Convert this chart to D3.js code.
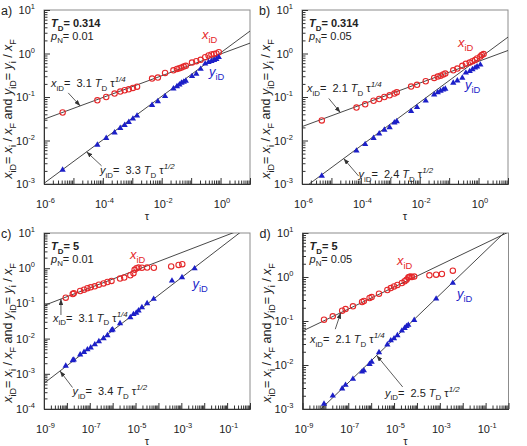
<!DOCTYPE html>
<html>
<head>
<meta charset="utf-8">
<script src="https://cdn.jsdelivr.net/npm/d3@7"></script>
<style>
  body { margin: 0; background: #fff; }
  svg { font-family: "Liberation Sans", Arial, sans-serif; }
  text { white-space: pre; }
</style>
</head>
<body>
<svg id="chart" width="527" height="446"></svg>
<script>
// ---- data ----
// panel a) TD = 0.314, pN = 0.01
const tauA = [4.3e-6, 6.5e-5, 1.3e-4, 2.5e-4, 3.9e-4, 5.5e-4, 7.6e-4, 1.05e-3, 1.45e-3,
              4.7e-3, 7.4e-3, 1.3e-2, 2.5e-2, 3.3e-2, 4.0e-2, 4.7e-2, 5.6e-2, 6.6e-2,
              0.107, 0.15, 0.21, 0.30, 0.39, 0.49, 0.60, 0.72, 0.87];
const xA = [0.044, 0.084, 0.10, 0.12, 0.133, 0.143, 0.150, 0.162, 0.173,
            0.265, 0.28, 0.358, 0.41, 0.443, 0.46, 0.475, 0.50, 0.52,
            0.62, 0.665, 0.714, 0.82, 0.90, 0.95, 0.98, 1.0, 1.07];
const yA = [0.0021, 0.0079, 0.0113, 0.0151, 0.0193, 0.0226, 0.0265, 0.0316, 0.037,
            0.065, 0.079, 0.104, 0.155, 0.176, 0.193, 0.21, 0.222, 0.234,
            0.30, 0.34, 0.44, 0.58, 0.63, 0.665, 0.70, 0.74, 0.82];

// panel b) TD = 0.314, pN = 0.05
const tauBx = [4.7e-6, 7.1e-5, 1.4e-4, 2.7e-4, 4.2e-4, 6.3e-4, 9.5e-4, 1.38e-3, 1.66e-3,
               5.1e-3, 8.1e-3, 1.6e-2, 3.1e-2, 4.1e-2, 5.1e-2, 6.3e-2, 7.4e-2, 0.138,
               0.19, 0.28, 0.37, 0.50, 0.62, 0.76, 0.89, 1.15, 1.29, 1.48];
const xB = [0.029, 0.057, 0.068, 0.082, 0.09, 0.10, 0.109, 0.12, 0.128,
            0.174, 0.19, 0.23, 0.275, 0.295, 0.31, 0.33, 0.345, 0.41,
            0.45, 0.52, 0.58, 0.62, 0.665, 0.71, 0.77, 0.85, 0.92, 0.97];
const tauBy = [4.7e-6, 7.1e-5, 1.4e-4, 2.7e-4, 4.2e-4, 6.3e-4, 9.5e-4, 1.38e-3, 1.66e-3,
               5.1e-3, 8.1e-3, 1.6e-2, 3.1e-2, 4.1e-2, 5.1e-2, 6.3e-2, 7.4e-2, 0.138,
               0.19, 0.28, 0.37, 0.50, 0.62, 0.76, 0.89, 1.15];
const yB = [0.00153, 0.0058, 0.0082, 0.0113, 0.0143, 0.0176, 0.020, 0.0256, 0.0275,
            0.047, 0.058, 0.082, 0.113, 0.128, 0.138, 0.148, 0.153, 0.21,
            0.238, 0.275, 0.36, 0.39, 0.43, 0.47, 0.50, 0.55];

// panel c) TD = 5, pN = 0.01
const tauCx = [8.9e-9, 1.8e-8, 2.0e-8, 3.8e-8, 5.6e-8, 7.9e-8, 1.1e-7, 1.66e-7, 2.5e-7,
               4.0e-7, 5.9e-7, 8.9e-7, 2.1e-6, 3.2e-6, 5.9e-6, 8.1e-6, 9.1e-6, 1.1e-5,
               1.35e-5, 1.9e-5, 3.2e-5, 6.3e-5, 3.6e-4, 7.6e-4, 1.1e-3];
const xC = [0.145, 0.185, 0.193, 0.225, 0.245, 0.27, 0.287, 0.306, 0.34,
            0.37, 0.406, 0.435, 0.507, 0.54, 0.63, 0.72, 0.9, 1.0,
            1.04, 1.03, 1.04, 1.03, 1.12, 1.24, 1.3];
const tauCy = [8.9e-9, 1.8e-8, 2.0e-8, 3.8e-8, 5.6e-8, 7.9e-8, 1.1e-7, 1.66e-7, 2.5e-7,
               4.0e-7, 5.9e-7, 8.9e-7, 1.0e-6, 2.1e-6, 5.9e-6, 8.1e-6, 1.07e-5, 1.35e-5,
               1.9e-5, 3.2e-5, 6.2e-5, 3.9e-4, 1.07e-3, 3.8e-3];
const yC = [0.00168, 0.0024, 0.0025, 0.0035, 0.0041, 0.0049, 0.0055, 0.0068, 0.0083,
            0.0101, 0.0123, 0.017, 0.018, 0.027, 0.04, 0.049, 0.054, 0.062,
            0.077, 0.10, 0.133, 0.44, 0.55, 0.98];

// panel d) TD = 5, pN = 0.05
const tauDx = [8.7e-9, 2.1e-8, 5.4e-8, 7.6e-8, 1.6e-7, 4.0e-7, 4.8e-7, 8.5e-7, 1.05e-6,
               2.2e-6, 5.1e-6, 7.2e-6, 1.0e-5, 1.4e-5, 2.2e-5, 2.9e-5, 3.5e-5, 4.2e-5,
               4.6e-5, 5.2e-5, 6.0e-5, 7.6e-5, 3.5e-4, 6.9e-4, 1.23e-3, 3.7e-3];
const xD = [0.107, 0.128, 0.172, 0.187, 0.215, 0.27, 0.285, 0.333, 0.35,
            0.417, 0.507, 0.56, 0.61, 0.66, 0.73, 0.80, 0.87, 0.98,
            1.0, 1.02, 1.0, 1.02, 1.09, 1.13, 1.17, 1.39];
const tauDy = [8.7e-9, 2.1e-8, 5.4e-8, 7.6e-8, 1.6e-7, 4.0e-7, 4.8e-7, 8.5e-7, 1.05e-6,
               2.2e-6, 5.1e-6, 7.2e-6, 1.0e-5, 1.4e-5, 2.2e-5, 2.9e-5, 3.5e-5, 4.2e-5,
               7.6e-5, 6.9e-4, 3.7e-3];
const yD = [0.0013, 0.0020, 0.0029, 0.0035, 0.0048, 0.0070, 0.0075, 0.0105, 0.0118,
            0.0194, 0.029, 0.036, 0.040, 0.047, 0.060, 0.069, 0.076, 0.081,
            0.105, 0.32, 0.73];

// fit coefficients: xiD = cX*TD*tau^(1/4), yiD = cY*TD*tau^(1/2)
const panelNames = ["a)", "b)", "c)", "d)"];
const TD = [0.314, 0.314, 5, 5];
const pN = [0.01, 0.05, 0.01, 0.05];
const cX = [3.1, 2.1, 3.1, 2.1];
const cY = [3.3, 2.4, 3.4, 2.5];

// tick labels (decades)
const xTicksAB = [1e-6, 1e-4, 1e-2, 1];
const xTicksCD = [1e-9, 1e-7, 1e-5, 1e-3, 1e-1];
const yTicksAB = [1e-3, 1e-2, 1e-1, 1, 10];
const yTicksC = [1e-4, 1e-3, 1e-2, 1e-1, 1, 10];

const RED = "#e5282a", BLUE = "#1c1fc8", INK = "#222";
const PW = 206;

const panels = [
  {left: 44, top: 10, h: 174, xDom: [1e-6, 10], yDom: [1e-3, 10], xTicks: xTicksAB, yTicks: yTicksAB,
   tx: tauA, xv: xA, ty: tauA, yv: yA,
   xLab: [158, 28.5], yLab: [165, 66], xEq: [7, 77], yEq: [56, 164],
   xArr: {tau: 1.7e-5, dx: -12, dy: -13}, yArr: {tau: 2.8e-5, dx: 15, dy: 14}},
  {left: 302, top: 10, h: 174, xDom: [1e-6, 10], yDom: [1e-3, 10], xTicks: xTicksAB, yTicks: yTicksAB,
   tx: tauBx, xv: xB, ty: tauBy, yv: yB,
   xLab: [156, 36.5], yLab: [163, 79], xEq: [5, 82], yEq: [56.5, 168],
   xArr: {tau: 2.0e-5, dx: -11.5, dy: -14}, yArr: {tau: 2.6e-5, dx: 15, dy: 17.5}},
  {left: 44, top: 233, h: 176, xDom: [1e-9, 1], yDom: [1e-4, 10], xTicks: xTicksCD, yTicks: yTicksC,
   tx: tauCx, xv: xC, ty: tauCy, yv: yC,
   xLab: [86, 25.5], yLab: [148.5, 55], xEq: [9, 88.5], yEq: [28.5, 162],
   xArr: {tau: 5.5e-9, dx: 0, dy: 16}, yArr: {tau: 5.0e-9, dx: 12.5, dy: 16.5}},
  {left: 302.5, top: 233, h: 176, xDom: [1e-9, 1], yDom: [1e-3, 10], xTicks: xTicksCD, yTicks: yTicksAB,
   tx: tauDx, xv: xD, ty: tauDy, yv: yD,
   xLab: [94.5, 31.5], yLab: [154.5, 64.5], xEq: [7.5, 110], yEq: [82.5, 163.5],
   xArr: {tau: 4.7e-8, dx: -5.5, dy: 16.5}, yArr: {tau: 1.74e-6, dx: 26, dy: 31.5}}
];

const svg = d3.select("#chart");
const defs = svg.append("defs");
defs.append("marker")
    .attr("id", "arr")
    .attr("viewBox", "0 0 8 6")
    .attr("refX", 8).attr("refY", 3)
    .attr("markerWidth", 6).attr("markerHeight", 4.5)
    .attr("markerUnits", "userSpaceOnUse")
    .attr("orient", "auto")
  .append("path")
    .attr("d", "M0,0L8,3L0,6z")
    .attr("fill", "#333");

// text with italic / sub / superscript runs
function rich(parent, x, y, segs, size, opts) {
  opts = opts || {};
  const t = parent.append("text")
      .attr("x", x).attr("y", y)
      .attr("font-size", size)
      .attr("fill", opts.fill || INK)
      .attr("text-anchor", opts.anchor || "start");
  if (opts.bold) t.attr("font-weight", "bold");
  let cur = 0;
  segs.forEach(s => {
    const shift = s.sub ? size * 0.32 : s.sup ? -size * 0.42 : 0;
    const ts = t.append("tspan").attr("dy", shift - cur).text(s.t);
    if (s.sub || s.sup) ts.attr("font-size", size * 0.72);
    if (s.i) ts.attr("font-style", "italic");
    cur = shift;
  });
  return t;
}

function decades(dom) {
  const out = [];
  for (let e = Math.round(Math.log10(dom[0])); e <= Math.round(Math.log10(dom[1])); e++) out.push(Math.pow(10, e));
  return out;
}
function minors(dom) {
  const out = [];
  decades(dom).forEach(d => { for (let k = 2; k <= 9; k++) if (d * k < dom[1]) out.push(d * k); });
  return out;
}
function expLabel(sel, size) {
  sel.each(function(d) {
    const t = d3.select(this);
    t.append("tspan").text("10");
    t.append("tspan").attr("dy", -size * 0.45).attr("font-size", size * 0.68)
      .text(Math.round(Math.log10(d)));
  });
}

panels.forEach((p, k) => {
  const g = svg.append("g").attr("transform", `translate(${p.left},${p.top})`);
  const x = d3.scaleLog().domain(p.xDom).range([0, PW]);
  const y = d3.scaleLog().domain(p.yDom).range([p.h, 0]);

  defs.append("clipPath").attr("id", "clip" + k)
    .append("rect").attr("width", PW).attr("height", p.h);

  g.append("rect").attr("width", PW).attr("height", p.h)
    .attr("fill", "none").attr("stroke", "#8c8c8c").attr("stroke-width", 1);

  // axes: ticks point inward
  const axStyle = a => a.call(s => s.selectAll("path, line").attr("stroke", "#333"));
  g.append("g").attr("transform", `translate(0,${p.h})`)
    .call(d3.axisBottom(x).tickValues(minors(p.xDom)).tickSize(-3.5).tickSizeOuter(0).tickFormat(""))
    .call(axStyle);
  g.append("g").attr("transform", `translate(0,${p.h})`)
    .call(d3.axisBottom(x).tickValues(decades(p.xDom)).tickSize(-6).tickSizeOuter(0).tickFormat(""))
    .call(axStyle);
  g.append("g")
    .call(d3.axisLeft(y).tickValues(minors(p.yDom)).tickSize(-3.5).tickSizeOuter(0).tickFormat(""))
    .call(axStyle);
  g.append("g")
    .call(d3.axisLeft(y).tickValues(decades(p.yDom)).tickSize(-6).tickSizeOuter(0).tickFormat(""))
    .call(axStyle);

  // tick labels
  g.append("g").selectAll("text").data(p.xTicks).join("text")
    .attr("x", d => x(d) + 1.5).attr("y", p.h + 23.5)
    .attr("text-anchor", "middle").attr("font-size", 11).attr("fill", INK)
    .call(expLabel, 11);
  g.append("g").selectAll("text").data(p.yTicks).join("text")
    .attr("x", -9).attr("y", d => y(d) + 4)
    .attr("text-anchor", "end").attr("font-size", 11).attr("fill", INK)
    .call(expLabel, 11);

  // axis titles
  g.append("text").attr("x", PW / 2).attr("y", p.h + 36)
    .attr("text-anchor", "middle").attr("font-size", 11).attr("fill", INK).text("τ");
  const yt = g.append("g").attr("transform", `translate(-32,${p.h / 2 + 12}) rotate(-90)`);
  rich(yt, 0, 0, [
    {t: "x", i: 1}, {t: "iD", sub: 1}, {t: "= "}, {t: "x", i: 1}, {t: "i", sub: 1}, {t: " / "},
    {t: "x", i: 1}, {t: "F", sub: 1}, {t: " and "}, {t: "y", i: 1}, {t: "iD", sub: 1}, {t: "= "},
    {t: "y", i: 1}, {t: "i", sub: 1}, {t: " / "}, {t: "x", i: 1}, {t: "F", sub: 1}
  ], 12.5, {anchor: "middle"});

  g.append("text").attr("x", -43).attr("y", 4.5)
    .attr("font-size", 12.5).attr("fill", INK).text(panelNames[k]);

  // fit lines and data
  const plot = g.append("g").attr("clip-path", `url(#clip${k})`);
  const fitX = t => cX[k] * TD[k] * Math.pow(t, 0.25);
  const fitY = t => cY[k] * TD[k] * Math.pow(t, 0.5);
  const line = d3.line().x(d => x(d[0])).y(d => y(d[1]));
  [fitX, fitY].forEach(f => {
    plot.append("path")
      .attr("d", line(p.xDom.map(t => [t, f(t)])))
      .attr("fill", "none").attr("stroke", "#333").attr("stroke-width", 0.9);
  });

  plot.append("g").selectAll("circle").data(p.tx).join("circle")
    .attr("cx", d => x(d)).attr("cy", (d, i) => y(p.xv[i])).attr("r", 2.7)
    .attr("fill", "none").attr("stroke", RED).attr("stroke-width", 1.1);

  const tri = d3.symbol(d3.symbolTriangle, 17);
  plot.append("g").selectAll("path").data(p.ty).join("path")
    .attr("d", tri)
    .attr("transform", (d, i) => `translate(${x(d)},${y(p.yv[i])})`)
    .attr("fill", BLUE);

  // arrows to the fit lines
  [[p.xArr, fitX], [p.yArr, fitY]].forEach(([a, f]) => {
    const hx = x(a.tau), hy = y(f(a.tau));
    g.append("line")
      .attr("x1", hx + a.dx).attr("y1", hy + a.dy).attr("x2", hx).attr("y2", hy)
      .attr("stroke", "#333").attr("stroke-width", 0.8).attr("marker-end", "url(#arr)");
  });

  // annotations
  rich(g, 7, 17, [{t: "T", i: 1}, {t: "D", sub: 1}, {t: "= " + TD[k]}], 11, {bold: true});
  rich(g, 7, 29.5, [{t: "p", i: 1}, {t: "N", sub: 1}, {t: "= " + pN[k]}], 11);
  rich(g, p.xLab[0], p.xLab[1], [{t: "x", i: 1}, {t: "iD", sub: 1}], 13, {fill: RED});
  rich(g, p.yLab[0], p.yLab[1], [{t: "y", i: 1}, {t: "iD", sub: 1}], 13, {fill: BLUE});
  rich(g, p.xEq[0], p.xEq[1], [{t: "x", i: 1}, {t: "iD", sub: 1}, {t: "=  " + cX[k] + " "},
    {t: "T", i: 1}, {t: "D", sub: 1}, {t: " τ"}, {t: "1/4", sup: 1, i: 1}], 11);
  rich(g, p.yEq[0], p.yEq[1], [{t: "y", i: 1}, {t: "iD", sub: 1}, {t: "=  " + cY[k] + " "},
    {t: "T", i: 1}, {t: "D", sub: 1}, {t: " τ"}, {t: "1/2", sup: 1, i: 1}], 11);
});
</script>
</body>
</html>
